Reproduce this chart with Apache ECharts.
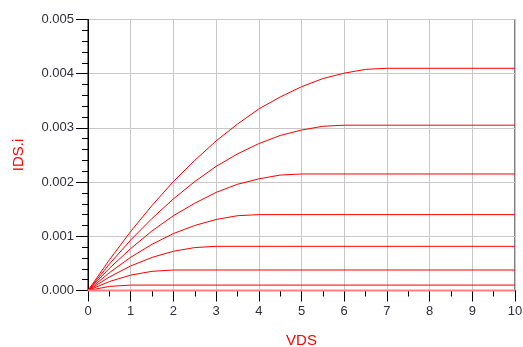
<!DOCTYPE html>
<html>
<head>
<meta charset="utf-8">
<script src="https://cdn.jsdelivr.net/npm/echarts@6/dist/echarts.min.js"></script>
<style>html,body{margin:0;padding:0;background:#fff;}#c{width:523px;height:347px;}</style>
</head>
<body>
<div id="c"></div>
<script>
// VDS sample points per curve and IDS values
const vds7 = [0, 0.5, 1, 1.5, 2, 2.5, 3, 3.5, 4, 4.5, 5, 5.5, 6, 6.5, 7, 10];
const ids7 = [0, 0.000565, 0.00109, 0.00157, 0.00201, 0.00240, 0.00276, 0.00307, 0.00335, 0.00357, 0.00376, 0.00391, 0.00401, 0.00408, 0.00410, 0.00410];
const vds6 = [0, 0.5, 1, 1.5, 2, 2.5, 3, 3.5, 4, 4.5, 5, 5.5, 6, 10];
const ids6 = [0, 0.000487, 0.000932, 0.00133, 0.00169, 0.00201, 0.00229, 0.00252, 0.00271, 0.00286, 0.00296, 0.00303, 0.00305, 0.00305];
const vds5 = [0, 0.5, 1, 1.5, 2, 2.5, 3, 3.5, 4, 4.5, 5, 10];
const ids5 = [0, 0.000409, 0.000774, 0.00110, 0.00138, 0.00161, 0.00181, 0.00196, 0.00206, 0.00213, 0.00215, 0.00215];
const vds4 = [0, 0.5, 1, 1.5, 2, 2.5, 3, 3.5, 4, 10];
const ids4 = [0, 0.000328, 0.000613, 0.000853, 0.00105, 0.00120, 0.00131, 0.00138, 0.00140, 0.00140];
const vds3 = [0, 0.5, 1, 1.5, 2, 2.5, 3, 10];
const ids3 = [0, 0.000249, 0.000453, 0.000611, 0.000724, 0.000792, 0.000815, 0.000815];
const vds2 = [0, 0.5, 1, 1.5, 2, 10];
const ids2 = [0, 0.000165, 0.000284, 0.000354, 0.000378, 0.000378];
const vds1 = [0, 0.5, 1, 10];
const ids1 = [0, 0.000075, 0.000100, 0.000100];
const vds0 = [0, 10];
const ids0 = [0, 0];

const xTicks = [0, 1, 2, 3, 4, 5, 6, 7, 8, 9, 10];
const yTicks = ["0.000", "0.001", "0.002", "0.003", "0.004", "0.005"];

const curves = [[vds7, ids7], [vds6, ids6], [vds5, ids5], [vds4, ids4], [vds3, ids3], [vds2, ids2], [vds1, ids1], [vds0, ids0]];

const chart = echarts.init(document.getElementById('c'), null, {renderer: 'canvas'});
const labelColor = '#2f2f3a';
chart.setOption({
  animation: false,
  backgroundColor: '#fff',
  grid: {left: 88, right: 8, top: 19.5, bottom: 56.5, containLabel: false, outerBoundsMode: 'none',
    show: true, borderColor: '#000', borderWidth: 1, backgroundColor: 'transparent'},
  xAxis: {
    type: 'value', min: 0, max: 10, interval: 1,
    name: 'VDS', nameLocation: 'middle', nameGap: 43,
    nameTextStyle: {color: '#ff0000', fontSize: 15, fontFamily: 'Liberation Sans'},
    axisLine: {show: true, onZero: false, lineStyle: {color: '#000', width: 1}},
    axisTick: {show: true, inside: false, length: 11, lineStyle: {color: '#000'}},
    minorTick: {show: true, splitNumber: 2, length: 6, lineStyle: {color: '#000'}},
    axisLabel: {color: labelColor, fontSize: 13, fontFamily: 'Liberation Sans', margin: 14,
      formatter: v => String(xTicks[Math.round(v)])},
    splitLine: {show: true, lineStyle: {color: '#c8c8c8', width: 1}}
  },
  yAxis: {
    type: 'value', min: 0, max: 0.005, interval: 0.001,
    name: 'IDS.i', nameLocation: 'middle', nameGap: 62, nameRotate: 90,
    nameTextStyle: {color: '#ff0000', fontSize: 15, fontFamily: 'Liberation Sans'},
    axisLine: {show: true, onZero: false, lineStyle: {color: '#000', width: 1}},
    axisTick: {show: true, inside: false, length: 12, lineStyle: {color: '#000'}},
    minorTick: {show: true, splitNumber: 5, length: 6, lineStyle: {color: '#000'}},
    axisLabel: {color: labelColor, fontSize: 13, fontFamily: 'Liberation Sans', margin: 14,
      formatter: v => yTicks[Math.round(v * 1000)]},
    splitLine: {show: true, lineStyle: {color: '#c8c8c8', width: 1}}
  },
  series: curves.map(([xs, ys], i) => ({
    type: 'line',
    data: xs.map((x, j) => [x, ys[j]]),
    showSymbol: false,
    symbol: 'none',
    smooth: false,
    clip: false,
    lineStyle: {color: i === curves.length - 1 ? '#ff8080' : '#ff0000', width: i === curves.length - 1 ? 2 : 1},
    z: 3
  }))
});
</script>
</body>
</html>
